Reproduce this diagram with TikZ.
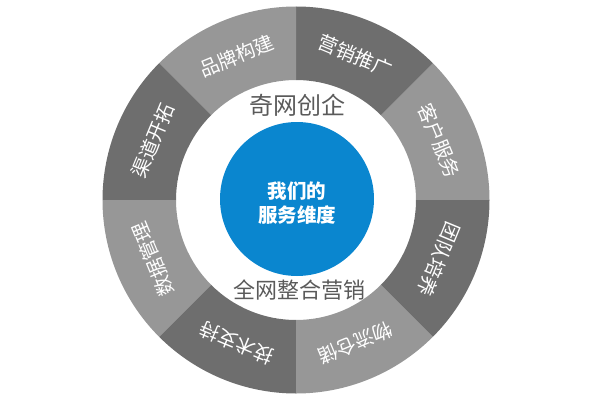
\documentclass[tikz,border=0pt]{standalone}
\usepackage{fontspec}
\newfontfamily\cjk{Noto Sans CJK SC}
\definecolor{segdark}{HTML}{6E6E6E}
\definecolor{seglight}{HTML}{979797}
\definecolor{coreblue}{HTML}{0A86CF}
\definecolor{labelgray}{HTML}{5A5A5A}
\tikzset{
  segtext/.style={text=white, font=\cjk\fontsize{19.5}{21}\selectfont, inner sep=0pt},
  ringlabel/.style={text=labelgray, inner sep=0pt},
  coretext/.style={text=white, font=\cjk\bfseries\fontsize{19.5}{24}\selectfont, align=center, inner sep=0pt}
}
\begin{document}
\begin{tikzpicture}[x=1pt,y=1pt]
\useasboundingbox (0,0) rectangle (600,400);
\begin{scope}[shift={(296,200)}]
  \def\Ro{193.5}
  \def\Ri{120}
  \foreach \a/\col in {0/seglight,45/segdark,90/seglight,135/segdark,180/seglight,225/segdark,270/seglight,315/segdark}{
    \pgfmathsetmacro{\b}{\a+45}
    \fill[\col] (\a:\Ro) arc[start angle=\a, end angle=\b, radius=\Ro] -- (\b:\Ri) arc[start angle=\b, end angle=\a, radius=\Ri] -- cycle;
  }
  \node[segtext, rotate=-67.5] (s1) at (22.5:155) {客户服务};
  \node[segtext, rotate=-22.5] (s2) at (67.5:156) {营销推广};
  \node[segtext, rotate=22.5] (s3) at (112.5:156) {品牌构建};
  \node[segtext, rotate=67.5] (s4) at (157.5:155) {渠道开拓};
  \node[segtext, rotate=112.5] (s5) at (202.5:155) {数据管理};
  \node[segtext, rotate=157.5] (s6) at (247.5:155) {技术支持};
  \node[segtext, rotate=202.5] (s7) at (292.5:155) {物流仓储};
  \node[segtext, rotate=247.5] (s8) at (337.5:155) {团队培养};
  \fill[coreblue] (1,1) circle[radius=77];
  \node[coretext] (core) at (1,-3) {我们的\\服务维度};
  \node[ringlabel, font=\cjk\fontsize{24}{26}\selectfont] (top) at (1,95) {奇网创企};
  \node[ringlabel, font=\cjk\fontsize{22}{24}\selectfont] (bottom) at (3,-90) {全网整合营销};
\end{scope}
\end{tikzpicture}
\end{document}
